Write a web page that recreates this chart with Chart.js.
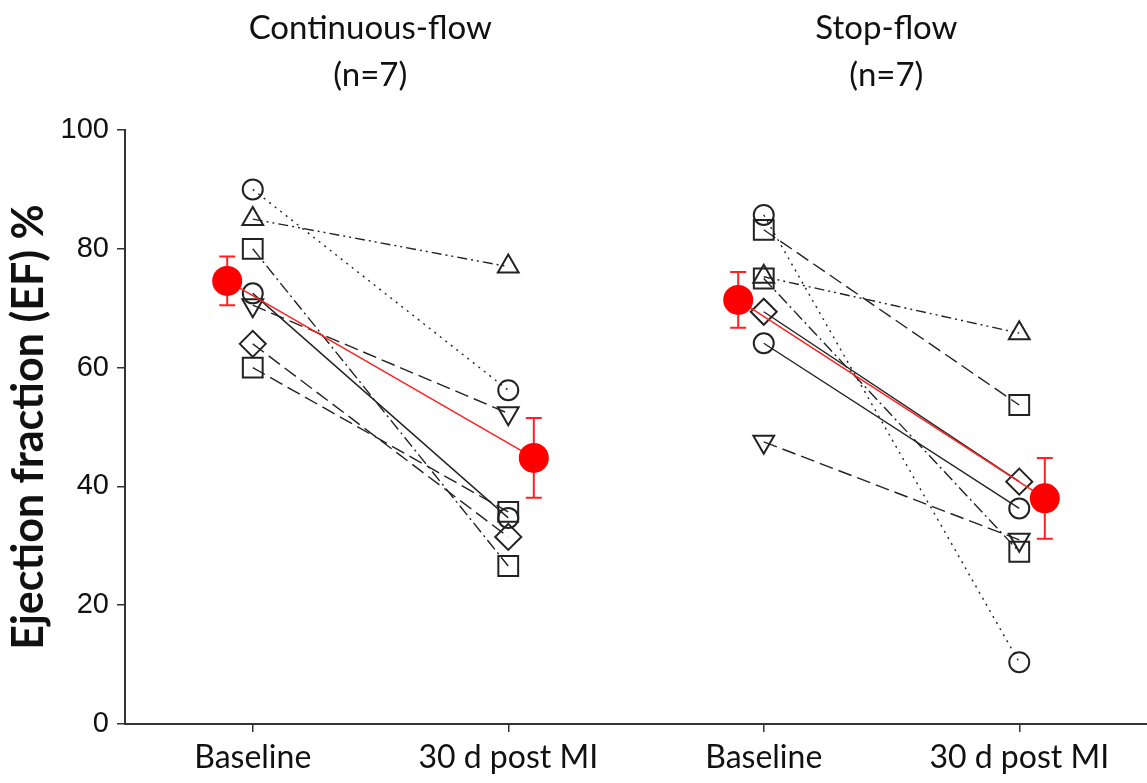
<!DOCTYPE html>
<html>
<head>
<meta charset="utf-8">
<script src="https://cdn.jsdelivr.net/npm/chart.js@4.4.1/dist/chart.umd.min.js"></script>
<style>
  html, body { margin: 0; padding: 0; background: #fff; }
  #wrap { width: 1147px; height: 783px; }
</style>
</head>
<body>
<div id="wrap"><canvas id="ef" width="1147" height="783"></canvas></div>
<script>
// ---- data ----
const categories = ['Baseline', '30 d post MI', 'Baseline', '30 d post MI'];
const groupTitles = [['Continuous-flow', '(n=7)'], ['Stop-flow', '(n=7)']];
const yTicks = [0, 20, 40, 60, 80, 100];

// continuous-flow, each animal baseline -> 30 d
const cfBaseline = [90, 85, 80, 72.5, 70.5, 64, 60];
const cf30d = [56.2, 77, 26.6, 34.7, 52.3, 31.5, 35.7];
// stop-flow
const sfBaseline = [85.7, 83.2, 75.3, 75, 69.4, 64.1, 47.5];
const sf30d = [10.4, 53.7, 65.8, 29, 40.8, 36.3, 31];

// group means and error bars
const cfMean = [74.6, 44.8];
const cfErr = [4.1, 6.7];
const sfMean = [71.4, 38.0];
const sfErr = [4.7, 6.8];

// ---- styles ----
const DOT = [2, 5], DDOT = [10, 4, 2, 4, 2, 4], DASHDOT = [12, 4, 2, 4], DASH = [14, 6], SOLID = [];
const cfMarkers = ['circle', 'triangle', 'rect', 'circle', 'triangleDown', 'rectRot', 'rect'];
const cfDashes = [DOT, DDOT, DASHDOT, SOLID, DASH, DASH, DASH];
const sfMarkers = ['circle', 'rect', 'triangle', 'rect', 'rectRot', 'circle', 'triangleDown'];
const sfDashes = [DOT, DASH, DDOT, DASHDOT, SOLID, SOLID, DASH];
const markerSize = { circle: 10, triangle: 12, triangleDown: 12, rect: 14, rectRot: 13 };
const meanShift = 0.1;
const ink = '#222';

function animalSets(base, post, x0, markers, dashes) {
  return base.map((b, i) => {
    const m = markers[i];
    return {
      data: [{ x: x0, y: b }, { x: x0 + 1, y: post[i] }],
      borderColor: ink,
      borderWidth: 1.4,
      borderDash: dashes[i],
      pointStyle: m === 'triangleDown' ? 'triangle' : m,
      pointRotation: m === 'triangleDown' ? 180 : 0,
      pointRadius: markerSize[m],
      pointBorderWidth: 2,
      pointBorderColor: ink,
      pointBackgroundColor: 'rgba(0,0,0,0)',
      order: 1
    };
  });
}

function meanSet(mean, x0) {
  return {
    data: [{ x: x0 - meanShift, y: mean[0] }, { x: x0 + 1 + meanShift, y: mean[1] }],
    borderColor: '#ff2020',
    borderWidth: 1.5,
    pointStyle: 'circle',
    pointRadius: 15,
    pointBorderWidth: 0,
    pointBackgroundColor: '#ff0000',
    order: 0
  };
}

const errorGroups = [
  { x: [1 - meanShift, 2 + meanShift], mean: cfMean, err: cfErr },
  { x: [3 - meanShift, 4 + meanShift], mean: sfMean, err: sfErr }
];

const errorBars = {
  id: 'errorBars',
  beforeDatasetsDraw(chart) {
    const { ctx, scales: { x, y } } = chart;
    ctx.save();
    ctx.strokeStyle = '#ff2020';
    ctx.lineWidth = 2;
    errorGroups.forEach(g => g.mean.forEach((v, i) => {
      const px = x.getPixelForValue(g.x[i]);
      const top = y.getPixelForValue(v + g.err[i]);
      const bot = y.getPixelForValue(v - g.err[i]);
      ctx.beginPath();
      ctx.moveTo(px, top); ctx.lineTo(px, bot);
      ctx.moveTo(px - 8, top); ctx.lineTo(px + 8, top);
      ctx.moveTo(px - 8, bot); ctx.lineTo(px + 8, bot);
      ctx.stroke();
    }));
    ctx.restore();
  }
};

const titleX = [1.46, 3.48];
const groupHeads = {
  id: 'groupHeads',
  afterDraw(chart) {
    const { ctx, scales: { x } } = chart;
    ctx.save();
    ctx.fillStyle = '#111';
    ctx.font = '33px Lato';
    ctx.textAlign = 'center';
    ctx.textBaseline = 'middle';
    groupTitles.forEach((lines, i) => {
      const px = x.getPixelForValue(titleX[i]);
      ctx.fillText(lines[0], px, 28);
      ctx.fillText(lines[1], px, 75);
    });
    ctx.restore();
  }
};

new Chart(document.getElementById('ef'), {
  type: 'line',
  data: {
    datasets: [
      meanSet(cfMean, 1),
      meanSet(sfMean, 3),
      ...animalSets(cfBaseline, cf30d, 1, cfMarkers, cfDashes),
      ...animalSets(sfBaseline, sf30d, 3, sfMarkers, sfDashes)
    ]
  },
  options: {
    responsive: false,
    devicePixelRatio: 1,
    animation: false,
    clip: false,
    layout: { autoPadding: false, padding: { top: 130, right: 0, bottom: 0, left: 0 } },
    plugins: { legend: { display: false }, tooltip: { enabled: false } },
    scales: {
      x: {
        type: 'linear',
        min: 0.5,
        max: 4.5,
        afterBuildTicks: s => { s.ticks = categories.map((c, i) => ({ value: i + 1 })); },
        afterFit: s => { s.height = 59; s.paddingLeft = 0; s.paddingRight = 0; },
        ticks: {
          callback: v => categories[v - 1],
          color: '#111',
          font: { family: 'Lato', size: 32 },
          padding: 6,
          maxRotation: 0,
          autoSkip: false
        },
        grid: { drawOnChartArea: false, drawTicks: true, tickLength: 8, color: '#333', lineWidth: 1.5 },
        border: { color: '#333', width: 2 }
      },
      y: {
        min: 0,
        max: 100,
        afterBuildTicks: s => { s.ticks = yTicks.map(v => ({ value: v })); },
        afterFit: s => { s.width = 125; },
        ticks: {
          color: '#111',
          font: { family: 'Liberation Sans', size: 29 },
          padding: 8
        },
        grid: { drawOnChartArea: false, drawTicks: true, tickLength: 8, color: '#333', lineWidth: 1.5 },
        border: { color: '#333', width: 2 },
        title: {
          display: true,
          text: 'Ejection fraction (EF) %',
          color: '#111',
          font: { family: 'Lato', size: 43, weight: 'bold' },
          padding: { top: 3, bottom: 0 }
        }
      }
    }
  },
  plugins: [errorBars, groupHeads]
});
</script>
</body>
</html>
